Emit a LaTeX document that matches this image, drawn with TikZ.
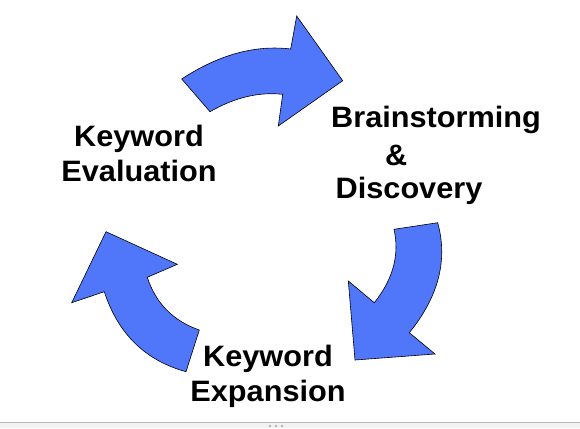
\documentclass[tikz,border=0pt]{standalone}
\usepackage{fontspec}
\setmainfont{Liberation Sans}[FakeStretch=1.04]
\definecolor{cycleblue}{RGB}{80,118,250}

\begin{document}
\begin{tikzpicture}[x=1pt, y=-1pt,
    cyclearrow/.style={draw=black, line width=0.6pt, fill=cycleblue, line join=miter},
    steplabel/.style={font=\fontsize{29.5}{35}\selectfont\bfseries, inner sep=0pt}]
    \useasboundingbox (0,0) rectangle (580,428);

    % window edge at the bottom
    \fill[gray!10] (0,422) rectangle (580,428);
    \draw[gray!55, line width=0.8pt] (0,422) -- (580,422);
    \foreach \x in {270,276,282} {
        \fill[gray!60] (\x,426) circle (1.3pt);
    }

    % the three curved arrows
    \draw[cyclearrow] (181.7,79) .. controls (218.7,54.7) and (255,44.7) .. (290.7,49)
        -- (296.7,16) -- (342.7,80.7) -- (278.3,126) -- (282.7,94.3)
        .. controls (258.9,91.7) and (234.7,97.5) .. (210,111.7) -- cycle;
    \draw[cyclearrow] (394,229.3) -- (437.7,222.7)
        .. controls (448,260.2) and (438.5,296.8) .. (409.3,332.7)
        -- (435,354) -- (355,360) -- (348.3,281) -- (374.3,302.7)
        .. controls (393.1,279.2) and (399.7,254.7) .. cycle;
    \draw[cyclearrow] (199.3,330) -- (186,371.7)
        .. controls (145.3,360.5) and (118,333.8) .. (104.3,291.7)
        -- (71.7,302.7) -- (106,231.7) -- (177.3,264.3) -- (147.3,277.3)
        .. controls (155.8,303.4) and (173.2,320.9) .. cycle;

    % labels
    \node[steplabel, align=center, anchor=north] (evaluation) at (139,125) {Keyword\\Evaluation};
    \node[steplabel, align=left, anchor=north west] (discovery) at (331,106)
        {Brainstorming\\[3pt]\hspace*{54pt}\&\\[-2pt]\hspace*{4.5pt}Discovery};
    \node[steplabel, align=center, anchor=north] (expansion) at (268,345) {Keyword\\Expansion};
\end{tikzpicture}
\end{document}
